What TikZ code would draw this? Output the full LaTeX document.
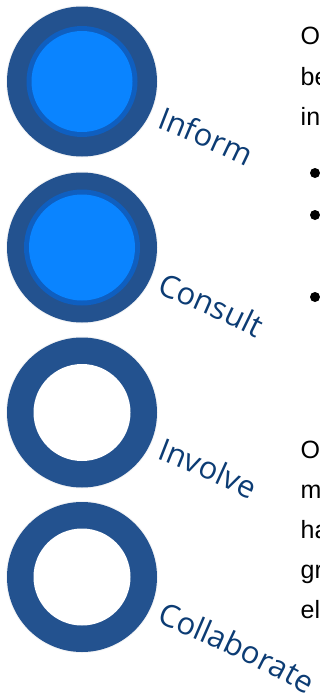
\documentclass[tikz,border=0pt]{standalone}
\usepackage{fontspec}
\setmainfont{Liberation Sans}
\newfontfamily\labelfamily{Open Sans}
\usetikzlibrary{calc,decorations.text}

\definecolor{ringblue}{HTML}{23528F}
\definecolor{midblue}{HTML}{0F5FC0}
\definecolor{fillblue}{HTML}{0A84FF}
\definecolor{labelblue}{HTML}{0C3C74}
\definecolor{halo}{HTML}{F2F3F5}

\newcommand\lblfont{\labelfamily\fontsize{31}{37}\selectfont}

\begin{document}
\begin{tikzpicture}[x=1pt,y=-1pt,
  bodytext/.style={anchor=base west,inner sep=0pt,font=\fontsize{25}{30}\selectfont,text=black},
  arclabel/.style={decorate,decoration={text along path,text color=labelblue,text={|\lblfont|#1}}}]
\useasboundingbox (0,0) rectangle (320,696);
\fill[white] (0,0) rectangle (320,696);
\begin{scope}
\clip (0,0) rectangle (320,696);

% circle centres
\coordinate (c1) at (82,81.5);
\coordinate (c2) at (82,247.5);
\coordinate (c3) at (82,412.5);
\coordinate (c4) at (82,577);

% filled discs
\fill[halo] (c1) circle (76pt);
\fill[ringblue] (c1) circle (75pt);
\fill[midblue] (c1) circle (55.5pt);
\fill[fillblue] (c1) circle (50.5pt);

\fill[halo] (c2) circle (76pt);
\fill[ringblue] (c2) circle (75pt);
\fill[midblue] (c2) circle (58pt);
\fill[fillblue] (c2) circle (53pt);

% open rings
\fill[halo] (c3) circle (76pt);
\fill[ringblue] (c3) circle (75pt);
\fill[white] (c3) circle (48.5pt);

\fill[halo] (c4) circle (76pt);
\fill[ringblue] (c4) circle (75pt);
\fill[white] (c4) circle (48.5pt);

% curved labels
\path[arclabel=Inform] ($(c1)+(74,46)$) .. controls ($(c1)+(132.8,68.6)$) and ($(c1)+(190.8,96.9)$) .. ($(c1)+(244.8,129.3)$);
\path[arclabel=Consult] ($(c2)+(74,46)$) .. controls ($(c2)+(132.8,68.6)$) and ($(c2)+(190.8,96.9)$) .. ($(c2)+(244.8,129.3)$);
\path[arclabel=Involve] ($(c3)+(74,46)$) .. controls ($(c3)+(132.8,68.6)$) and ($(c3)+(190.8,96.9)$) .. ($(c3)+(244.8,129.3)$);
\path[arclabel=Collaborate] ($(c4)+(74,46)$) .. controls ($(c4)+(132.8,68.6)$) and ($(c4)+(190.8,96.9)$) .. ($(c4)+(244.8,129.3)$);

% right-hand text column
\node[bodytext] (t1) at (300.5,44.5) {O};
\node[bodytext] (t2) at (300.5,85) {be};
\node[bodytext] (t3) at (300.5,125) {in};
\fill (315,173) circle (5pt);
\fill (315,215) circle (5pt);
\fill (315,297) circle (5pt);
\node[bodytext] (t4) at (300.5,458) {O};
\node[bodytext] (t5) at (300.5,498) {m};
\node[bodytext] (t6) at (300.5,538) {ha};
\node[bodytext] (t7) at (300.5,578) {gr};
\node[bodytext] (t8) at (300.5,618) {el};
\end{scope}
\end{tikzpicture}
\end{document}
